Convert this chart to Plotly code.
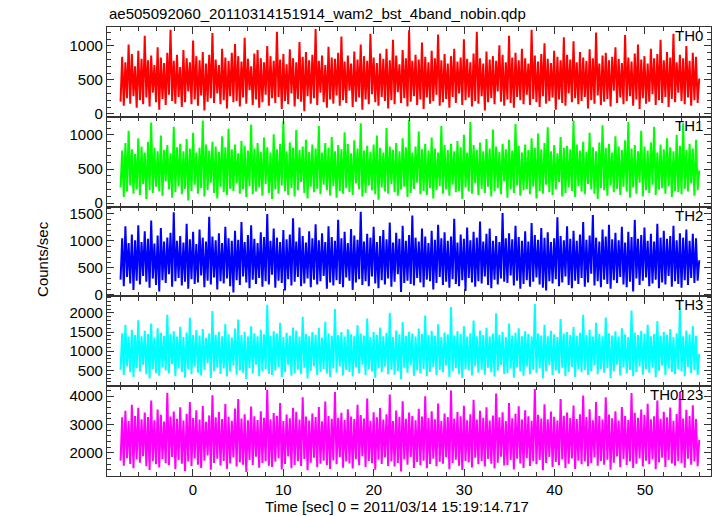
import numpy as np
import plotly.graph_objects as go
from plotly.subplots import make_subplots

title_text = "ae505092060_20110314151914_wam2_bst_4band_nobin.qdp"
panel_names = ["TH0", "TH1", "TH2", "TH3", "TH0123"]
t_start, t_end = -8.0, 56.0

th0 = [180, 840, 120, 760, 230, 1020, 150, 880, 260, 700, 90, 930,
       200, 810, 140, 1150, 240, 790, 110, 860, 310, 720, 170, 980,
       60, 830, 220, 750, 130, 900, 280, 1240, 190, 780, 150, 870,
       250, 690, 100, 940, 170, 820, 330, 760, 140, 1080, 210, 850,
       120, 790, 270, 910, 50, 740, 180, 870, 230, 1190, 160, 800,
       300, 720, 140, 960, 200, 830, 80, 780, 260, 900, 170, 1030,
       190, 850, 110, 770, 240, 1120, 150, 810, 350, 700, 130, 890,
       210, 940, 90, 820, 170, 760, 280, 1000, 120, 850, 230, 780,
       160, 1210, 250, 800, 70, 880, 190, 730, 140, 950, 300, 820,
       110, 760, 220, 1060, 180, 840, 40, 910, 260, 790, 150, 870,
       230, 1250, 130, 780, 310, 860, 170, 720, 90, 990, 210, 830,
       150, 810, 270, 900, 120, 1140, 200, 770, 160, 860, 340, 740,
       100, 920, 180, 800, 240, 1020, 60, 850, 210, 780, 140, 1180,
       290, 830, 170, 750, 120, 890, 250, 810, 190, 960, 80, 790,
       200, 1090, 140, 860, 320, 730, 160, 940, 230, 820, 110, 1230,
       180, 780, 260, 870, 130, 800, 210, 1050, 70, 840, 240, 760,
       150, 930, 190, 820, 280, 1170, 120, 790, 170, 880, 220, 740,
       90, 850, 250, 960, 160, 770, 300, 830, 130, 1100, 200, 810,
       240, 760, 110, 890, 190, 1210, 150, 820, 260, 740, 50, 920,
       170, 800, 230, 850, 140, 780, 330, 1010, 180, 870, 120, 760,
       210, 1150, 160, 830, 90, 900, 250, 790, 200, 960, 140, 820,
       280, 740, 130, 1240, 220, 860, 170, 770, 100, 880, 260, 1040,
       150, 810, 190, 750, 240, 930, 60, 840, 210, 790, 160, 1130,
       120, 870, 300, 800, 170, 1070, 230, 760, 140, 910, 190, 830,
       250, 780, 80, 950, 200, 820, 150, 1200, 270, 740, 130, 860,
       180, 900, 220, 790, 110, 840, 340, 980, 160, 810, 240, 750,
       140, 1160, 190, 830, 260, 770, 120, 890, 210, 1020, 70, 800,
       230, 850, 150, 740, 180, 960, 290, 820, 130, 880, 200, 1090,
       160, 790, 250, 910, 100, 830, 220, 1180, 170, 760, 310, 870,
       190, 820, 140, 1000, 240, 780, 120, 900, 200, 840, 160, 520]

th1 = [230, 770, 90, 880, 170, 1060, 260, 790, 140, 720, 200, 950,
       120, 830, 280, 740, 60, 900, 190, 1180, 150, 810, 240, 760,
       170, 990, 110, 780, 320, 850, 200, 730, 80, 1120, 160, 820,
       250, 870, 130, 760, 210, 940, 40, 800, 180, 1030, 270, 740,
       140, 810, 220, 1210, 100, 860, 190, 770, 300, 900, 150, 830,
       70, 750, 240, 980, 160, 820, 120, 1090, 210, 790, 180, 860,
       290, 730, 140, 910, 200, 840, 90, 770, 250, 1150, 130, 800,
       170, 880, 230, 750, 110, 960, 280, 820, 150, 740, 60, 1010,
       200, 790, 140, 870, 260, 1200, 180, 760, 120, 890, 220, 810,
       100, 1070, 190, 780, 310, 830, 150, 930, 70, 750, 240, 860,
       160, 800, 210, 1130, 130, 740, 270, 880, 190, 810, 110, 970,
       250, 760, 80, 850, 180, 790, 140, 1040, 220, 870, 160, 730,
       120, 920, 290, 800, 200, 1170, 100, 770, 150, 840, 260, 750,
       190, 860, 130, 990, 50, 810, 230, 740, 170, 1100, 140, 830,
       280, 780, 160, 880, 110, 760, 200, 950, 240, 820, 90, 1220,
       150, 740, 210, 830, 300, 1050, 130, 790, 180, 870, 120, 770,
       220, 960, 70, 800, 190, 740, 250, 1130, 140, 850, 200, 780,
       110, 870, 270, 760, 160, 910, 180, 820, 60, 1000, 230, 740,
       170, 1190, 140, 850, 290, 780, 120, 890, 210, 760, 150, 940,
       240, 800, 100, 1080, 180, 830, 220, 750, 130, 870, 320, 790,
       80, 930, 200, 770, 150, 1160, 260, 840, 110, 740, 190, 860,
       210, 780, 130, 950, 240, 810, 70, 1020, 180, 790, 140, 880,
       270, 1110, 160, 760, 120, 850, 200, 730, 310, 970, 100, 810,
       150, 840, 230, 790, 180, 1210, 90, 860, 250, 770, 170, 900,
       130, 750, 280, 1030, 200, 820, 140, 760, 60, 890, 220, 1140,
       190, 810, 110, 870, 260, 740, 160, 980, 210, 830, 120, 780,
       240, 920, 170, 1190, 80, 800, 230, 850, 140, 760, 300, 1060,
       100, 830, 190, 770, 150, 890, 270, 1120, 120, 740, 200, 860,
       220, 790, 140, 950, 250, 820, 90, 760, 180, 1000, 160, 840,
       130, 1170, 210, 780, 170, 870, 290, 800, 110, 930, 190, 480]

th2 = [280, 1050, 160, 1270, 330, 960, 210, 1120, 90, 1010, 260, 1290,
       190, 980, 350, 1180, 240, 1040, 130, 1380, 300, 950, 180, 1100,
       60, 1240, 270, 990, 220, 1060, 380, 1150, 150, 1530, 250, 1000,
       310, 1090, 170, 970, 240, 1320, 110, 1030, 290, 1170, 200, 940,
       230, 1210, 360, 1060, 140, 990, 260, 1450, 190, 1080, 320, 1010,
       100, 1140, 250, 960, 210, 1260, 300, 1050, 160, 1000, 40, 1190,
       270, 1020, 180, 1350, 340, 980, 230, 1110, 120, 1290, 280, 1040,
       200, 960, 310, 1160, 150, 1070, 250, 1500, 190, 1000, 370, 1230,
       130, 1060, 260, 980, 220, 1200, 80, 1030, 290, 1120, 170, 1420,
       240, 990, 330, 1250, 160, 1090, 210, 970, 300, 1180, 140, 1050,
       280, 1310, 190, 1010, 250, 1140, 350, 980, 110, 1270, 230, 1070,
       170, 1000, 270, 1390, 200, 1050, 140, 1170, 320, 960, 260, 1220,
       90, 1100, 230, 1020, 290, 1540, 180, 990, 250, 1130, 160, 1060,
       340, 1260, 210, 980, 120, 1090, 270, 1200, 190, 1030, 300, 1340,
       150, 970, 240, 1150, 380, 1040, 50, 1280, 220, 1000, 260, 1110,
       200, 1470, 170, 1060, 310, 990, 230, 1230, 140, 1080, 280, 960,
       250, 1190, 100, 1020, 220, 1300, 330, 1050, 180, 1160, 240, 1000,
       130, 1080, 290, 1410, 200, 970, 160, 1120, 270, 1040, 70, 1250,
       310, 1010, 230, 1170, 150, 1060, 250, 1360, 210, 990, 340, 1130,
       180, 1230, 120, 1000, 280, 1090, 190, 980, 300, 1520, 240, 1050,
       220, 1140, 360, 1030, 170, 1280, 260, 1070, 110, 1000, 200, 1180,
       270, 990, 150, 1330, 240, 1110, 320, 1020, 190, 1240, 130, 1060,
       80, 1160, 250, 980, 210, 1050, 290, 1440, 160, 1090, 230, 1010,
       340, 1270, 180, 1040, 120, 1190, 260, 1000, 200, 1120, 310, 1350,
       150, 1020, 230, 1100, 390, 1480, 170, 1060, 250, 990, 140, 1210,
       280, 1080, 200, 1300, 110, 1030, 270, 1150, 220, 1010, 330, 1260,
       190, 970, 140, 1170, 240, 1070, 60, 1390, 300, 1040, 180, 1110,
       260, 1250, 320, 1000, 160, 1130, 210, 990, 280, 1320, 120, 1060,
       230, 1190, 190, 1040, 350, 1090, 150, 1280, 250, 1010, 200, 1140,
       130, 1060, 270, 1210, 180, 1000, 310, 1130, 220, 1050, 260, 640]

th3 = [520, 1470, 380, 1690, 610, 1380, 450, 1560, 330, 1420, 560, 1810,
       470, 1390, 640, 1530, 400, 1450, 290, 1720, 540, 1360, 430, 1600,
       360, 1480, 580, 1400, 500, 1950, 420, 1440, 660, 1520, 350, 1380,
       560, 1640, 460, 1370, 310, 1490, 530, 1870, 400, 1420, 600, 1550,
       440, 1410, 370, 1580, 520, 1350, 680, 1460, 300, 2050, 480, 1430,
       580, 1500, 410, 1390, 550, 1710, 340, 1440, 470, 1360, 620, 1590,
       390, 1830, 500, 1420, 440, 1510, 270, 1380, 560, 1650, 420, 1470,
       650, 1390, 350, 1560, 480, 1440, 530, 2210, 410, 1400, 380, 1520,
       500, 1460, 590, 1740, 320, 1370, 450, 1480, 640, 1410, 360, 1620,
       430, 1540, 520, 1380, 400, 1900, 570, 1450, 290, 1390, 490, 1500,
       610, 1430, 380, 1610, 460, 1360, 540, 1770, 420, 1470, 330, 1400,
       550, 2100, 440, 1420, 600, 1500, 370, 1380, 510, 1570, 460, 1440,
       340, 1390, 580, 1680, 420, 1460, 650, 1410, 380, 1850, 530, 1370,
       470, 1500, 310, 1430, 560, 1620, 450, 1390, 600, 1480, 400, 2000,
       520, 1370, 390, 1540, 480, 1440, 270, 1760, 570, 1400, 440, 1510,
       630, 1460, 360, 1380, 500, 1590, 420, 1450, 540, 1930, 350, 1420,
       460, 1530, 590, 1400, 380, 1700, 510, 1370, 450, 1490, 620, 1440,
       330, 2150, 480, 1410, 560, 1520, 400, 1450, 300, 1650, 530, 1380,
       500, 1470, 370, 1800, 610, 1390, 440, 1540, 520, 1420, 390, 1610,
       570, 1380, 450, 1460, 340, 1990, 490, 1430, 640, 1500, 410, 1370,
       430, 1720, 550, 1410, 310, 1480, 580, 1600, 470, 1390, 360, 1520,
       600, 1450, 400, 1380, 520, 2240, 440, 1470, 550, 1410, 290, 1690,
       480, 1390, 630, 1530, 380, 1440, 500, 1370, 420, 1840, 570, 1460,
       350, 1500, 460, 1420, 590, 1630, 330, 1400, 530, 1480, 450, 1950,
       510, 1430, 390, 1560, 470, 1380, 620, 1740, 400, 1450, 540, 1390,
       440, 1880, 560, 1470, 300, 1410, 480, 1520, 650, 1380, 370, 1600,
       580, 1440, 420, 1370, 510, 2060, 350, 1490, 460, 1420, 600, 1530,
       390, 1460, 530, 1690, 440, 1390, 570, 1450, 320, 1780, 490, 1410,
       620, 1500, 380, 1430, 550, 1580, 460, 1370, 400, 1470, 530, 2120,
       470, 1390, 350, 1540, 590, 1440, 430, 1660, 510, 1400, 380, 930]

th0123 = [1720, 3250, 1540, 3480, 1810, 3120, 1600, 3700, 1450, 3300, 1760, 3590,
          1650, 3180, 1880, 3420, 1520, 3260, 1390, 3850, 1700, 3150, 1590, 3530,
          1480, 3340, 1770, 3100, 1630, 4120, 1560, 3280, 1850, 3460, 1420, 3200,
          1740, 3610, 1610, 3140, 1350, 3380, 1690, 3790, 1530, 3230, 1800, 3500,
          1580, 3170, 1460, 3650, 1720, 3090, 1900, 3320, 1400, 4030, 1640, 3250,
          1790, 3440, 1550, 3190, 1710, 3720, 1430, 3270, 1620, 3130, 1830, 3560,
          1510, 3900, 1660, 3210, 1580, 3360, 1320, 3150, 1740, 3630, 1570, 3290,
          1860, 3160, 1470, 3470, 1640, 3240, 1700, 4230, 1540, 3180, 1500, 3400,
          1680, 3310, 1810, 3760, 1410, 3120, 1600, 3350, 1870, 3220, 1450, 3590,
          1570, 3450, 1700, 3170, 1530, 3960, 1780, 3280, 1380, 3140, 1650, 3390,
          1820, 3260, 1490, 3620, 1610, 3110, 1720, 3810, 1560, 3300, 1430, 3200,
          1730, 4150, 1590, 3240, 1840, 3410, 1470, 3160, 1690, 3540, 1620, 3280,
          1440, 3190, 1770, 3700, 1560, 3330, 1880, 3210, 1500, 3920, 1710, 3130,
          1630, 3430, 1400, 3250, 1750, 3580, 1600, 3170, 1830, 3360, 1530, 4060,
          1690, 3120, 1510, 3490, 1640, 3270, 1340, 3820, 1760, 3200, 1580, 3420,
          1850, 3300, 1460, 3150, 1670, 3550, 1560, 3280, 1720, 4000, 1450, 3230,
          1600, 3470, 1790, 3180, 1520, 3740, 1680, 3120, 1610, 3390, 1840, 3260,
          1420, 4200, 1640, 3210, 1750, 3440, 1540, 3290, 1390, 3660, 1710, 3150,
          1660, 3360, 1480, 3870, 1820, 3170, 1590, 3480, 1700, 3240, 1510, 3610,
          1780, 3140, 1610, 3320, 1440, 4090, 1650, 3250, 1860, 3430, 1550, 3120,
          1570, 3760, 1740, 3220, 1410, 3380, 1790, 3640, 1620, 3170, 1460, 3500,
          1810, 3290, 1530, 3130, 1700, 4250, 1590, 3340, 1740, 3210, 1380, 3710,
          1640, 3180, 1850, 3460, 1500, 3270, 1670, 3140, 1560, 3900, 1760, 3310,
          1460, 3420, 1610, 3230, 1800, 3670, 1430, 3190, 1720, 3360, 1590, 4020,
          1690, 3260, 1520, 3540, 1630, 3150, 1830, 3790, 1540, 3300, 1710, 3170,
          1580, 3960, 1750, 3350, 1400, 3220, 1650, 3470, 1870, 3140, 1490, 3620,
          1770, 3300, 1570, 3160, 1690, 4110, 1460, 3410, 1610, 3240, 1800, 3530,
          1510, 3340, 1720, 3730, 1590, 3180, 1760, 3290, 1420, 3850, 1660, 3200,
          1820, 3450, 1500, 3250, 1740, 3600, 1620, 3130, 1540, 3370, 1700, 4150,
          1630, 3210, 1470, 3520, 1790, 3300, 1580, 3680, 1690, 3190, 1520, 2450]

series = [th0, th1, th2, th3, th0123]
colors = ["#ff0000", "#00ff00", "#0000ff", "#00ffff", "#ff00ff"]
y_ranges = [[-44, 1280], [-50, 1265], [-31, 1637], [88, 2430], [1177, 4353]]
y_dticks = [500, 500, 500, 500, 1000]
y_minor = [100, 100, 100, 100, 200]

FONT = "Liberation Sans, Arial, Helvetica, sans-serif"
AX = "#333333"

fig = make_subplots(rows=5, cols=1, shared_xaxes=True, vertical_spacing=0)

for i, (vals, col) in enumerate(zip(series, colors)):
    t = np.linspace(t_start, t_end, len(vals))
    fig.add_trace(go.Scatter(x=t, y=vals, mode="lines",
                             line=dict(color=col, width=2),
                             showlegend=False, hoverinfo="skip"),
                  row=i + 1, col=1)
    fig.update_yaxes(range=y_ranges[i], dtick=y_dticks[i], tick0=0,
                     ticks="inside", ticklen=7, tickwidth=1, tickcolor=AX,
                     minor=dict(dtick=y_minor[i], ticks="inside", ticklen=4,
                                tickcolor=AX, showgrid=False),
                     showline=True, linecolor=AX, linewidth=1.2,
                     mirror="allticks", showgrid=False, zeroline=False,
                     tickfont=dict(family=FONT, size=15, color="black"),
                     row=i + 1, col=1)
    fig.update_xaxes(range=[-9.5, 57.3], dtick=10, tick0=0,
                     ticks="inside", ticklen=7, tickwidth=1, tickcolor=AX,
                     minor=dict(dtick=2, ticks="inside", ticklen=4,
                                tickcolor=AX, showgrid=False),
                     showline=True, linecolor=AX, linewidth=1.2,
                     mirror="allticks", showgrid=False, zeroline=False,
                     tickfont=dict(family=FONT, size=15, color="black"),
                     row=i + 1, col=1)
    fig.add_annotation(text=panel_names[i], xref="paper",
                       yref=f"y{'' if i == 0 else i + 1} domain",
                       x=1.0, y=1.0, xanchor="right", yanchor="top", xshift=-6, yshift=2,
                       showarrow=False, font=dict(family=FONT, size=15, color="black"))

fig.add_annotation(text=title_text, xref="paper", yref="paper", x=0, y=1,
                   xanchor="left", yanchor="bottom", yshift=3, showarrow=False,
                   font=dict(family=FONT, size=15, color="black"))
fig.add_annotation(text="Counts/sec", xref="paper", yref="paper", x=-0.108, y=0.483,
                   textangle=-90, showarrow=False, xanchor="center", yanchor="middle",
                   font=dict(family=FONT, size=15, color="black"))
fig.add_annotation(text="Time [sec] 0 = 2011/03/14 15:19:14.717", xref="paper", yref="paper",
                   x=0.48, y=-0.069, xanchor="center", yanchor="middle", showarrow=False,
                   font=dict(family=FONT, size=15, color="black"))

fig.update_layout(width=717, height=516, margin=dict(l=107, r=6, t=27, b=40),
                  plot_bgcolor="white", paper_bgcolor="white")

fig.write_html("out.html", config={"displayModeBar": False},
               post_script="document.body.style.margin='0';document.body.style.overflow='hidden';")
